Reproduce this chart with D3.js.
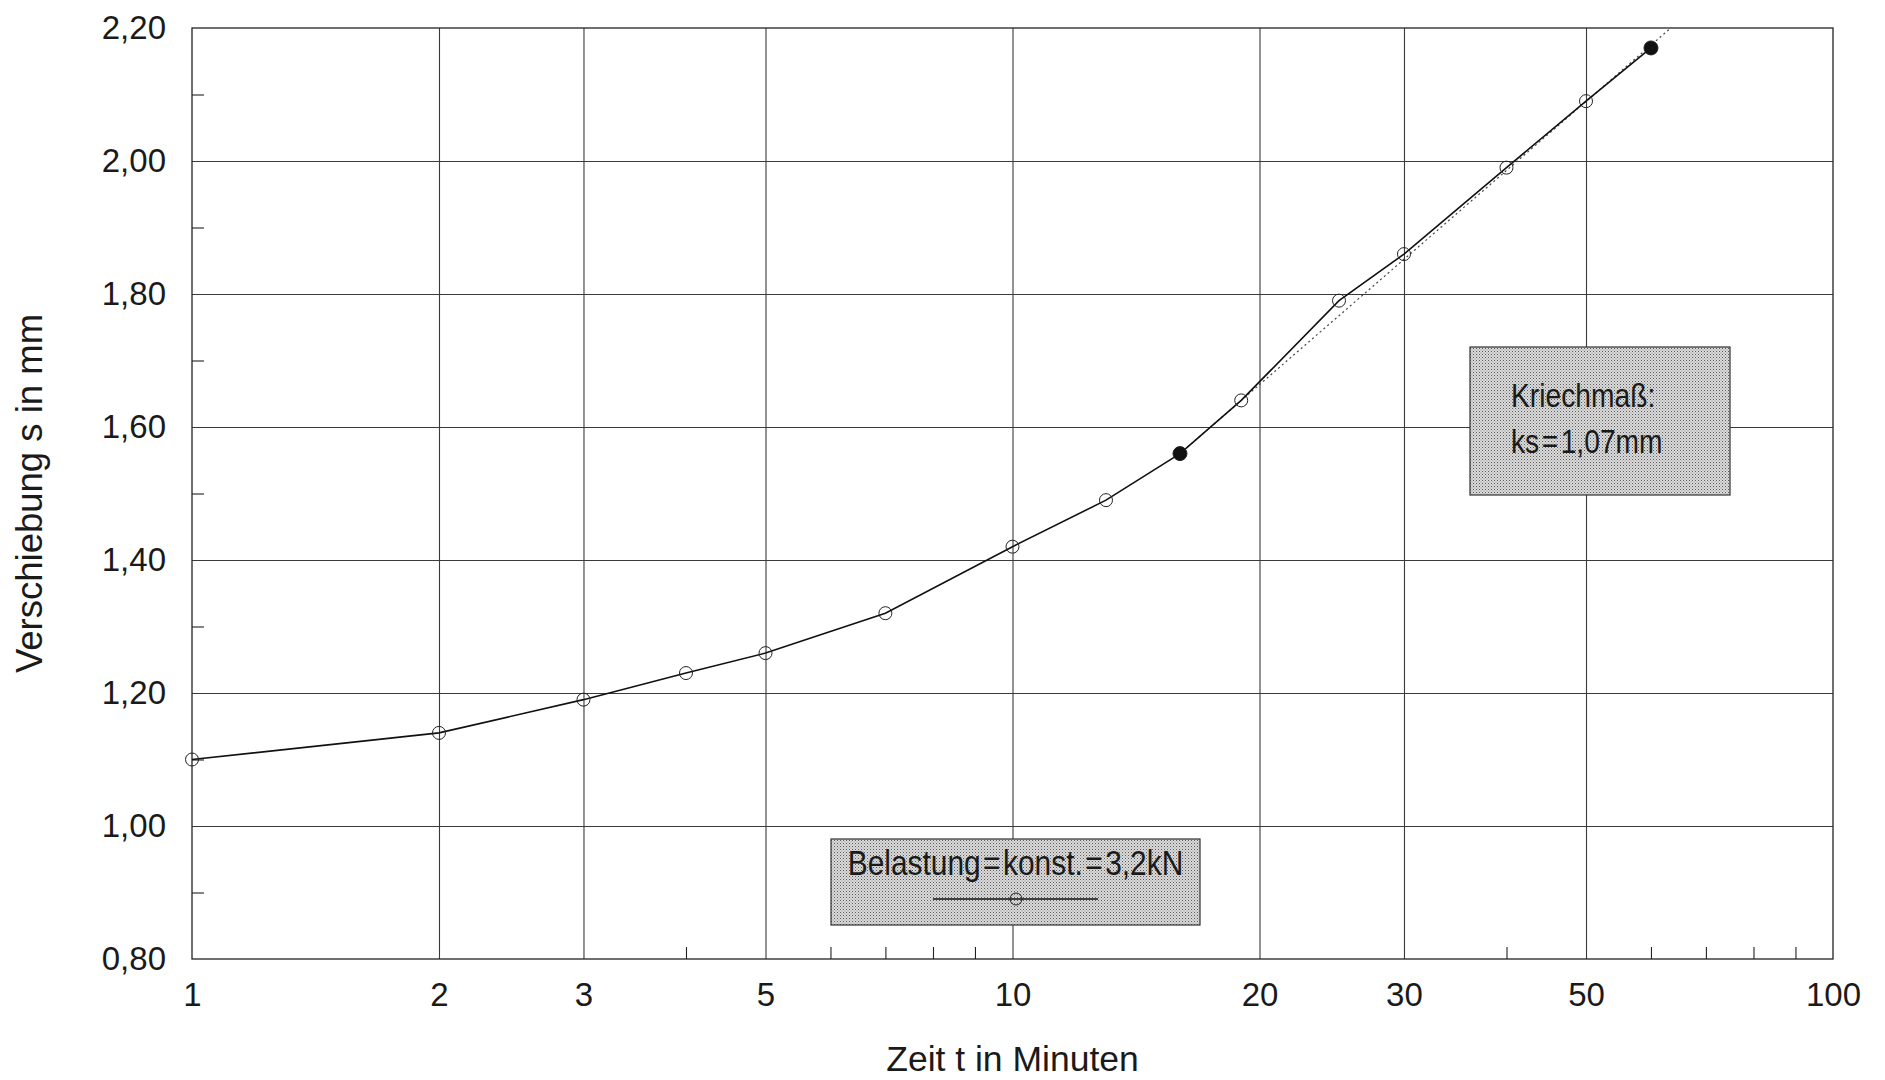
<!DOCTYPE html>
<html>
<head>
<meta charset="utf-8">
<script src="https://cdn.jsdelivr.net/npm/d3@7"></script>
<style>
  html, body { margin: 0; padding: 0; background: #fff; }
  svg { display: block; }
  .lab { font-family: "Liberation Sans", Arial, Helvetica, sans-serif; fill: #1a1a1a; }
  .box { font-family: "Liberation Sans", Arial, Helvetica, sans-serif; fill: #1a1a1a; }
</style>
</head>
<body>
<svg id="chart" width="1885" height="1080"></svg>
<script>
// Creep test: displacement over time at constant load
const timeMinutes = [1, 2, 3, 4, 5, 7, 10, 13, 16, 19, 25, 30, 40, 50, 60];
const displacementMm = [1.10, 1.14, 1.19, 1.23, 1.26, 1.32, 1.42, 1.49, 1.56, 1.64, 1.79, 1.86, 1.99, 2.09, 2.17];
// the two readings that bound the creep evaluation (drawn filled)
const creepInterval = [16, 60];
const creepMeasure = 1.07; // ks in mm per decade of time

const xGridTicks = [2, 3, 5, 10, 20, 30, 50];
const xLabelTicks = [1, 2, 3, 5, 10, 20, 30, 50, 100];
const xMinorTicks = [4, 6, 7, 8, 9, 40, 60, 70, 80, 90];
const yLabelTicks = [0.8, 1.0, 1.2, 1.4, 1.6, 1.8, 2.0, 2.2];
const yMinorTicks = [0.9, 1.1, 1.3, 1.5, 1.7, 1.9, 2.1];

const xTitle = "Zeit t in Minuten";
const yTitle = "Verschiebung s in mm";
const legendText = "Belastung=konst.=3,2kN";
const creepLines = ["Kriechmaß:", "ks=1,07mm"];

const margin = { left: 192, right: 52, top: 28, bottom: 121 };
const W = 1885, H = 1080;
const pw = W - margin.left - margin.right;
const ph = H - margin.top - margin.bottom;

const de = d3.formatLocale({ decimal: ",", thousands: ".", grouping: [3], currency: ["", " €"] });
const fmt = de.format(".2f");

const svg = d3.select("#chart");

// stippled fill used for the text boxes
const defs = svg.append("defs");
const pat = defs.append("pattern").attr("id", "stipple")
  .attr("width", 3).attr("height", 3).attr("patternUnits", "userSpaceOnUse");
pat.append("rect").attr("width", 3).attr("height", 3).attr("fill", "#dadada");
pat.append("rect").attr("x", 0).attr("y", 0).attr("width", 1).attr("height", 1).attr("fill", "#5a5a5a");
pat.append("rect").attr("x", 1.5).attr("y", 1.5).attr("width", 1).attr("height", 1).attr("fill", "#8a8a8a");

const g = svg.append("g").attr("transform", `translate(${margin.left},${margin.top})`);

const x = d3.scaleLog().domain([1, 100]).range([0, pw]);
const y = d3.scaleLinear().domain([0.8, 2.2]).range([ph, 0]);

// grid
g.append("g").attr("class", "grid-x")
  .attr("transform", `translate(0,${ph})`)
  .call(d3.axisBottom(x).tickValues(xGridTicks).tickSize(-ph).tickFormat(""))
  .call(s => s.select(".domain").remove())
  .call(s => s.selectAll("line").attr("stroke", "#3a3a3a").attr("stroke-width", 1.1));

g.append("g").attr("class", "grid-y")
  .call(d3.axisLeft(y).tickValues(yLabelTicks.slice(1, -1)).tickSize(-pw).tickFormat(""))
  .call(s => s.select(".domain").remove())
  .call(s => s.selectAll("line").attr("stroke", "#3a3a3a").attr("stroke-width", 1.1));

// minor ticks pointing inward
g.append("g")
  .attr("transform", `translate(0,${ph})`)
  .call(d3.axisBottom(x).tickValues(xMinorTicks).tickSize(-12).tickFormat(""))
  .call(s => s.select(".domain").remove())
  .call(s => s.selectAll("line").attr("stroke", "#222").attr("stroke-width", 1.1));

g.append("g")
  .call(d3.axisLeft(y).tickValues(yMinorTicks).tickSize(-12).tickFormat(""))
  .call(s => s.select(".domain").remove())
  .call(s => s.selectAll("line").attr("stroke", "#222").attr("stroke-width", 1.1));

// frame
g.append("rect").attr("width", pw).attr("height", ph)
  .attr("fill", "none").attr("stroke", "#222").attr("stroke-width", 1.3);

// tick labels
g.append("g")
  .attr("transform", `translate(0,${ph})`)
  .call(d3.axisBottom(x).tickValues(xLabelTicks).tickSize(0).tickPadding(24).tickFormat(d3.format("d")))
  .call(s => s.select(".domain").remove())
  .call(s => s.selectAll("text").attr("class", "lab").attr("font-size", 33).attr("fill", "#1a1a1a"));

g.append("g")
  .call(d3.axisLeft(y).tickValues(yLabelTicks).tickSize(0).tickPadding(26).tickFormat(fmt))
  .call(s => s.select(".domain").remove())
  .call(s => s.selectAll("text").attr("class", "lab").attr("font-size", 33).attr("fill", "#1a1a1a"));

// axis titles
svg.append("text").attr("class", "lab")
  .attr("x", margin.left + pw / 2).attr("y", 1071)
  .attr("text-anchor", "middle").attr("font-size", 35.5)
  .text(xTitle);

svg.append("text").attr("class", "lab")
  .attr("transform", `translate(42,${margin.top + ph / 2}) rotate(-90)`)
  .attr("text-anchor", "middle").attr("font-size", 36.5)
  .text(yTitle);

// creep regression line: from the first evaluation point with slope ks per decade, up to the top edge
const s0 = displacementMm[timeMinutes.indexOf(creepInterval[0])];
const tTop = creepInterval[0] * Math.pow(10, (2.2 - s0) / creepMeasure);
g.append("line")
  .attr("x1", x(creepInterval[0])).attr("y1", y(s0))
  .attr("x2", x(tTop)).attr("y2", y(2.2))
  .attr("stroke", "#444").attr("stroke-width", 1.2).attr("stroke-dasharray", "2,3");

// measured curve
const pts = timeMinutes.map((t, i) => ({ t, s: displacementMm[i] }));
g.append("path").datum(pts)
  .attr("fill", "none").attr("stroke", "#111").attr("stroke-width", 1.6)
  .attr("d", d3.line().x(d => x(d.t)).y(d => y(d.s)));

g.selectAll("circle.pt").data(pts).join("circle")
  .attr("class", "pt")
  .attr("cx", d => x(d.t)).attr("cy", d => y(d.s))
  .attr("r", d => creepInterval.includes(d.t) ? 7 : 6.5)
  .attr("fill", d => creepInterval.includes(d.t) ? "#111" : "none")
  .attr("stroke", "#222").attr("stroke-width", 1);

// condensed text helper for the boxed notes; the "=" signs get a little air on both sides
function narrowText(parent, tx, ty, size, anchor, str) {
  const t = parent.append("g").attr("transform", `translate(${tx},${ty}) scale(0.83,1)`)
    .append("text").attr("class", "box")
    .attr("text-anchor", anchor).attr("font-size", size);
  str.split(/(=)/).forEach(part => {
    if (!part) return;
    const sp = t.append("tspan").text(part);
    if (part === "=") sp.attr("dx", 3);
    else if (t.selectAll("tspan").size() > 1) sp.attr("dx", 3);
  });
}

// legend box
const lg = svg.append("g");
lg.append("rect").attr("x", 831).attr("y", 839).attr("width", 369).attr("height", 86)
  .attr("fill", "url(#stipple)").attr("stroke", "#333").attr("stroke-width", 1.2);
narrowText(lg, 1015.5, 875, 36, "middle", legendText);
lg.append("line").attr("x1", 933).attr("x2", 1098).attr("y1", 899).attr("y2", 899)
  .attr("stroke", "#111").attr("stroke-width", 1.4);
lg.append("circle").attr("cx", 1016).attr("cy", 899).attr("r", 6)
  .attr("fill", "none").attr("stroke", "#222").attr("stroke-width", 1);

// creep measure box
const kb = svg.append("g");
kb.append("rect").attr("x", 1470).attr("y", 347).attr("width", 260).attr("height", 148)
  .attr("fill", "url(#stipple)").attr("stroke", "#333").attr("stroke-width", 1.2);
creepLines.forEach((str, i) => narrowText(kb, 1511, 407 + i * 46, 34, "start", str));
</script>
</body>
</html>
